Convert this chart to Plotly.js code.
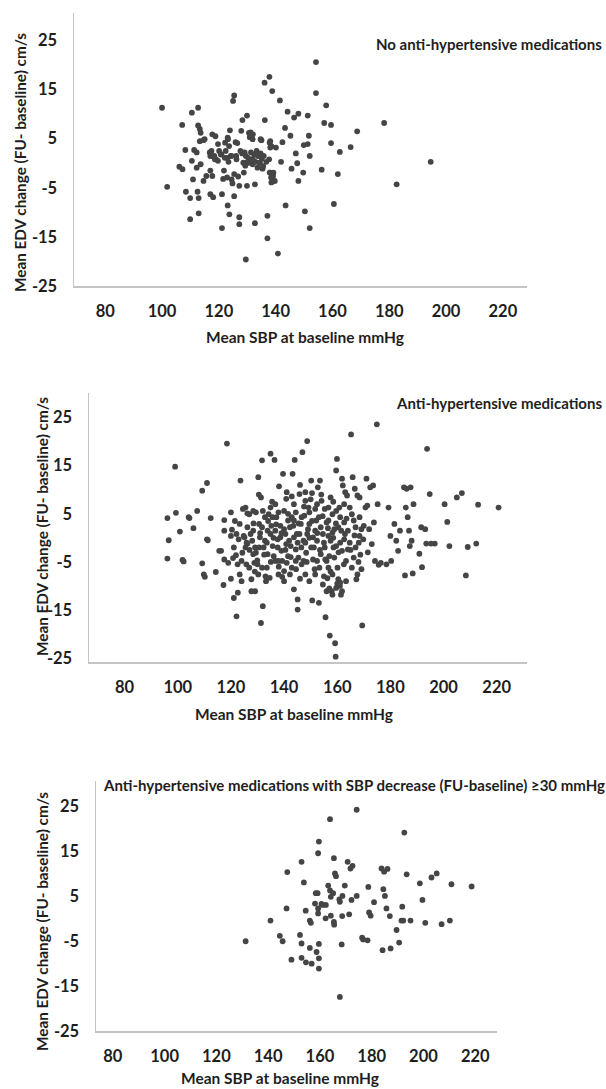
<!DOCTYPE html>
<html>
<head>
<meta charset="utf-8">
<script src="https://cdn.plot.ly/plotly-3.0.1.min.js"></script>
<style>html,body{margin:0;padding:0;background:#fff;}#chart{width:606px;height:1089px;}</style>
</head>
<body>
<div id="chart"></div>
<script>
// ---------- DATA ----------
const xTickVals = [80, 100, 120, 140, 160, 180, 200, 220];
const yTickVals = [-25, -15, -5, 5, 15, 25];

const panelTitles = [
  "No anti-hypertensive medications",
  "Anti-hypertensive medications",
  "Anti-hypertensive medications with SBP decrease (FU-baseline) \u226530 mmHg"
];
const xAxisTitle = "Mean SBP at baseline mmHg";
const yAxisTitle = "Mean EDV change (FU- baseline) cm/s";

// Panel 1: no anti-hypertensive medications
const p1_sbp = [100.0,101.8,106.1,107.2,107.1,108.2,108.4,109.9,109.9,110.5,110.5,110.9,111.3,112.2,112.7,112.7,112.2,112.5,112.9,112.9,
113.3,113.6,113.3,113.6,114.6,114.6,115.0,115.6,117.0,117.0,117.0,117.4,117.7,117.7,118.0,118.4,118.8,119.0,119.7,119.7,
120.1,120.7,121.1,121.1,121.5,121.8,122.2,122.4,122.9,122.9,123.1,123.1,123.4,123.7,123.9,124.2,124.5,124.8,125.0,125.4,
125.4,125.4,125.9,126.1,126.5,126.8,127.2,127.2,127.2,127.6,127.9,128.2,128.3,128.6,128.8,129.3,129.5,129.5,129.9,129.9,
130.3,130.6,130.6,131.0,131.3,131.6,131.9,131.9,132.4,132.7,132.7,132.9,133.3,133.6,134.0,134.3,134.7,134.7,135.1,135.4,
135.8,136.1,136.2,136.7,137.1,137.1,137.7,137.8,138.1,138.1,138.1,138.4,138.8,139.2,139.2,139.7,140.1,140.8,141.5,141.9,
142.4,143.3,143.5,144.2,145.2,145.6,146.5,147.1,147.6,148.0,148.0,149.7,149.9,150.3,151.3,151.3,151.7,152.0,152.0,154.2,
154.2,156.2,157.1,157.8,159.5,159.5,160.5,161.9,162.6,166.4,168.7,178.2,182.6,194.6,
123.2,123.6,131.2,132.0,130.9,135.0,137.9,138.5,139.1,138.5,137.9,116.8,117.4,118.6,120.9,122.1,124.4,126.2,129.1,129.7,
132.0,133.8,134.4,135.6];
const p1_edv = [11.3,-4.8,-0.7,-1.2,7.8,2.7,-5.8,-7.1,-11.4,10.3,0.5,-3.3,2.7,2.2,11.3,7.7,-0.9,-5.8,-7.1,-10.2,
7.0,6.2,4.5,-0.2,4.7,-3.6,4.9,-2.6,1.5,-1.5,-6.3,2.5,5.9,-2.6,-6.9,1.5,5.5,0.8,3.9,0.5,
2.5,1.8,-6.3,-13.2,-3.2,-1.5,4.2,2.5,1.1,-2.9,5.2,-8.6,0.3,-10.4,6.7,1.5,-3.3,-4.1,12.7,13.8,
-2.2,-6.7,4.3,1.5,4.1,-2.7,-4.6,-11.0,-12.4,2.5,6.6,2.0,8.8,0.1,-1.9,-0.5,1.5,-19.6,9.7,-4.6,
1.1,6.2,0.1,5.6,2.2,0.8,4.9,-0.2,1.8,-4.3,-12.2,0.3,2.5,-0.9,1.5,0.1,4.9,2.0,0.9,-1.1,
1.5,16.4,8.8,0.3,-10.7,-15.3,0.8,17.6,4.5,3.2,-1.9,-2.9,14.7,-3.6,-1.9,-3.6,3.2,-18.4,12.8,0.3,
4.3,7.2,-8.6,10.5,5.6,-1.1,9.3,2.0,0.0,10.1,-3.6,-1.9,3.7,-9.8,9.7,3.9,5.6,1.5,-13.2,20.6,
14.3,-1.3,8.2,11.8,7.8,4.1,-8.3,-2.2,2.3,3.3,6.5,8.2,-4.3,0.3,
4.9,3.5,6.3,5.9,5.3,4.7,4.2,3.5,-2.6,-3.9,-1.9,2.2,1.5,0.8,1.8,1.1,1.5,0.8,2.2,0.1,
0.8,1.5,0.1,-0.6];

// Panel 2: anti-hypertensive medications
const p2_sbp = [96.1,96.6,96.1,99.3,99.0,100.8,101.8,102.2,104.1,104.4,105.9,107.3,109.2,109.2,109.8,110.2,111.0,111.0,111.3,112.4,114.3,
115.6,116.3,117.2,117.5,117.5,117.5,118.5,119.0,120.0,120.0,120.0,120.4,120.8,121.1,121.9,122.1,122.6,122.9,123.3,123.3,123.6,124.0,124.3,124.8,125.1,125.5,125.8,125.9,126.2,
126.2,126.9,127.7,127.7,128.0,128.4,128.8,129.1,129.1,129.4,129.9,130.3,130.6,130.9,131.3,131.3,131.7,131.7,132.0,132.3,132.8,133.2,133.5,133.8,134.2,134.6,134.9,135.2,135.7,136.1,136.4,136.7,136.7,137.1,137.6,137.9,
138.1,138.6,139.0,139.3,139.6,140.0,140.5,140.8,141.0,141.5,141.9,142.2,142.5,142.9,143.2,143.7,144.0,144.4,144.8,145.1,145.1,145.4,145.8,146.3,146.6,146.9,147.3,147.6,148.0,148.3,148.7,149.0,149.2,
149.5,150.2,150.5,150.6,150.9,151.2,151.7,152.1,152.4,152.7,153.1,153.3,153.5,153.8,154.1,154.6,155.0,155.3,155.6,156.0,156.3,156.7,157.0,157.2,157.5,157.9,158.2,158.6,158.9,159.2,159.4,159.6,159.9,160.1,160.4,160.8,161.1,
161.4,161.8,162.1,162.6,162.9,163.3,163.7,164.0,164.7,165.2,165.5,165.8,166.2,166.6,166.9,167.2,167.6,168.1,168.4,168.7,169.1,169.4,169.8,170.6,171.0,171.3,172.0,172.4,
173.0,173.5,173.8,174.2,174.9,175.2,175.6,176.4,178.5,179.3,180.0,180.3,181.5,182.2,182.9,183.6,
185.1,185.5,185.8,186.1,186.5,187.0,187.3,187.6,188.0,188.4,188.7,190.9,191.6,191.9,193.1,193.5,193.8,194.8,195.3,196.7,200.4,201.4,202.2,205.0,206.9,208.4,209.1,212.3,213.0,220.7,
126.2,127.4,128.4,129.4,130.6,131.7,132.8,133.8,134.9,135.7,136.7,137.6,138.6,139.3,140.0,140.8,141.5,142.2,142.9,143.7,144.4,145.1,145.8,146.6,147.3,148.0,148.7,149.5,150.2,150.9,
151.7,152.4,153.1,153.8,154.6,155.3,156.0,156.7,157.5,158.2,158.9,159.6,160.4,161.1,161.8,162.6,163.3,164.0,164.7,165.5,166.2,166.9,167.6,168.4,169.1,
121.1,122.1,124.0,126.9,130.3,133.5,137.9,140.0,142.9,144.4,148.0,151.7,156.7,158.2,159.6,161.1,161.8,158.2,156.0,128.4,134.9,143.7,148.0,152.4,156.7,159.6,162.6,168.4,143.7,149.5,137.9,132.0,
127.0,128.5,130.0,131.0,132.5,134.0,135.0,136.0,137.0,138.0,139.0,140.5,141.5,142.5,143.5,144.5,145.5,146.5,147.5,148.5,149.5,150.5,151.5,152.5,153.5,154.5,155.5,156.5,157.5,158.5,
159.5,160.5,161.5,162.5,163.5,165.0,166.5,168.0,170.0,171.5,160.0,157.0,161.0,155.0,146.0,140.0,133.0,129.0,125.5,122.5,121.5,124.5,130.5,135.5,141.0,146.0,150.0,154.0,158.5,163.0];
const p2_edv = [4.1,-0.5,-4.3,5.2,14.8,1.3,-4.6,-4.9,4.3,4.1,2.0,5.6,9.8,-5.3,-7.6,-8.1,11.4,-0.3,-0.5,4.1,-7.1,
-2.7,-2.7,-9.8,3.7,1.5,-4.5,19.6,-5.2,5.3,0.4,-8.5,1.7,-4.2,-12.5,-3.6,-16.3,-11.4,-0.3,2.9,-7.6,11.9,-9.0,-3.1,0.4,0.1,6.3,-5.5,-1.0,-1.2,
5.1,4.9,-11.1,-8.6,-0.6,-3.4,-5.2,-11.1,-2.0,5.3,-4.7,12.6,2.9,0.1,8.4,-17.7,16.1,-6.2,-14.2,-2.0,4.3,-9.0,-1.0,1.5,4.9,-8.3,17.5,2.5,-1.7,-3.8,16.2,7.0,-4.8,4.3,-0.3,-7.6,
10.7,2.5,-2.7,-8.1,13.3,5.6,0.8,8.1,-5.2,3.6,-0.6,-7.6,-1.7,8.6,13.3,-10.7,16.2,5.3,0.8,-12.8,-14.9,-4.1,9.1,2.9,-5.5,17.8,-0.6,4.6,9.5,-3.1,20.1,1.8,6.3,
-9.0,11.9,9.3,-13.0,0.1,-2.0,6.0,3.6,-4.8,10.5,-13.5,-6.2,11.9,2.2,7.7,-9.7,-1.0,6.0,-16.5,3.2,-8.4,0.4,-3.8,-20.3,8.4,-11.1,4.9,-2.0,1.8,-21.9,-24.7,14.0,16.4,-6.2,-8.6,6.3,-1.0,
-11.8,12.3,10.9,3.2,0.8,-9.0,8.8,-2.4,6.3,21.5,4.9,12.6,-4.1,10.2,2.2,-8.6,8.8,-1.0,4.3,-3.5,-6.5,-18.2,-0.3,6.3,12.3,6.7,1.8,10.5,
-1.3,10.9,3.2,-4.8,23.6,7.0,-5.6,-5.2,-5.5,6.3,0.4,-4.8,2.9,-0.6,-2.7,1.5,
10.5,-7.8,6.3,10.2,4.3,1.5,-1.7,10.5,-0.6,-7.4,7.0,-3.3,2.2,-6.1,1.8,-1.2,18.5,9.1,-1.2,-1.2,7.0,3.3,-1.7,8.4,9.3,-7.8,-1.9,-1.2,6.9,6.3,
2.2,0.8,1.5,-3.1,-2.0,2.2,-0.6,-3.4,0.8,4.3,1.5,-2.0,0.1,-4.8,1.8,-1.3,-3.8,2.2,4.3,0.1,-2.4,-1.0,0.8,4.3,-4.8,-1.0,0.8,2.9,-2.0,-4.5,
1.5,-0.6,4.3,-3.4,0.8,-2.0,-4.8,3.6,-0.6,1.1,-4.1,-1.7,2.2,4.3,-2.7,-0.3,-4.8,1.5,-1.0,-6.2,3.6,-2.0,-7.6,0.4,1.8,
-2.0,0.8,-4.8,-6.2,-7.6,-6.2,-4.8,-6.9,-6.2,-4.8,-7.6,-7.6,-6.2,-7.6,-10.4,-9.3,-11.1,-11.8,-11.1,5.6,6.3,7.0,7.7,7.0,6.3,5.6,7.0,8.4,3.6,5.3,5.3,5.6,
-2.5,3.0,-5.5,1.0,-3.5,3.5,-5.0,0.0,2.8,-6.0,1.0,-2.5,5.0,-4.0,2.5,-6.5,3.0,-2.0,6.5,-5.0,0.0,3.5,-6.5,1.0,-2.5,4.5,-4.5,2.0,-7.0,0.0,
3.0,-3.0,1.5,-5.5,4.0,-2.5,0.5,-5.0,2.5,-3.0,-9.5,-10.5,-10.0,-8.0,-8.5,-9.0,-8.0,-7.0,-2.0,-5.5,3.5,6.0,9.0,7.5,9.5,11.0,8.0,9.0,7.5,9.5];

// Panel 3: anti-hypertensive medications with SBP decrease >= 30 mmHg
const p3_sbp = [131.3,140.9,144.5,145.6,147.4,147.1,149.0,152.3,152.9,152.9,152.9,153.8,154.6,154.5,156.1,156.5,156.1,156.8,158.1,158.4,
159.1,158.7,159.3,159.3,159.3,159.6,159.6,159.6,159.6,160.6,161.0,162.3,162.2,163.2,163.9,163.9,164.2,164.2,165.1,165.4,
165.4,165.5,165.8,166.2,167.5,167.7,168.4,168.6,167.7,168.7,169.6,170.7,171.3,171.8,172.2,172.6,174.2,174.2,176.3,176.7,
178.4,178.7,179.0,179.6,180.9,183.8,184.2,184.5,184.8,185.1,185.7,186.1,187.0,187.3,189.6,190.6,191.8,191.5,192.2,192.6,
193.5,195.0,198.6,199.6,200.7,203.1,205.1,207.0,210.2,210.8,218.6];
const p3_edv = [-5.0,-0.4,-3.8,-5.0,10.4,2.3,-9.1,-3.6,12.7,-5.5,-8.7,8.1,-9.7,1.8,-0.4,-0.9,-6.5,-10.0,3.4,5.7,
5.7,-7.4,1.2,2.3,14.6,17.2,-5.6,-8.8,-11.1,3.3,3.1,3.1,0.1,7.4,22.2,6.3,4.9,0.7,5.7,13.5,
-0.7,-1.3,10.1,9.5,4.3,3.8,-5.7,0.6,-17.4,5.1,7.4,12.7,1.0,11.2,4.2,11.8,24.3,5.1,-4.2,-4.6,
-4.8,7.1,1.4,0.7,3.7,11.2,-7.0,6.6,10.5,5.1,2.3,11.1,0.6,-6.6,-2.5,-5.3,2.7,-0.4,-0.4,19.2,
9.9,-0.4,7.9,4.2,-0.9,9.2,10.1,-1.2,-0.4,7.7,7.2];

// ---------- LAYOUT ----------
const W = 606, H = 1089;
const px = v => v / W;
const py = v => 1 - v / H;

const FONT = "Lato, 'Liberation Sans', Arial, sans-serif";
const TXT = "#1e1e1e";
const AXC = "#c4c4c4";
const DOT = "#454545";

const panels = [
  {sbp: p1_sbp, edv: p1_edv, xr: [69, 228.5], yr: [-25, 30.6], xd: [74, 527], yd: [13, 286],
   title: {x: 374, y: 44}, ytitle: {x: 20, y: 163}, xtitle: {x: 305, y: 337}},
  {sbp: p2_sbp, edv: p2_edv, xr: [66.6, 231.4], yr: [-25.8, 30.1], xd: [89, 527], yd: [393, 662],
   title: {x: 394, y: 403}, ytitle: {x: 42, y: 527}, xtitle: {x: 294, y: 714}},
  {sbp: p3_sbp, edv: p3_edv, xr: [73.5, 228.4], yr: [-25, 30.7], xd: [96, 497], yd: [781, 1031],
   title: {x: 101, y: 785}, ytitle: {x: 42, y: 922}, xtitle: {x: 280, y: 1078}}
];

const data = [];
const layout = {
  width: W, height: H,
  margin: {l: 0, r: 0, t: 0, b: 0},
  paper_bgcolor: "#ffffff", plot_bgcolor: "#ffffff",
  showlegend: false,
  font: {family: FONT, color: TXT},
  annotations: []
};

panels.forEach((p, i) => {
  const n = i === 0 ? "" : String(i + 1);
  data.push({
    type: "scatter", mode: "markers",
    x: p.sbp, y: p.edv,
    xaxis: "x" + n, yaxis: "y" + n,
    marker: {size: 5.8, color: DOT, line: {width: 0}},
    hoverinfo: "x+y"
  });
  layout["xaxis" + n] = {
    domain: [px(p.xd[0]), px(p.xd[1])],
    anchor: "y" + n,
    range: p.xr,
    tickmode: "array", tickvals: xTickVals, ticktext: xTickVals.map(String),
    showgrid: false, zeroline: false,
    showline: true, linecolor: AXC, linewidth: 1.5,
    ticks: "", ticklabelstandoff: 10,
    tickfont: {family: FONT, size: 16.5, color: TXT, weight: "bold"}
  };
  layout["yaxis" + n] = {
    domain: [py(p.yd[1]), py(p.yd[0])],
    anchor: "x" + n,
    range: p.yr,
    tickmode: "array", tickvals: yTickVals, ticktext: yTickVals.map(String),
    showgrid: false, zeroline: false,
    showline: true, linecolor: AXC, linewidth: 1.5,
    ticks: "", ticklabelstandoff: 12,
    tickfont: {family: FONT, size: 16.5, color: TXT, weight: "bold"}
  };
  layout.annotations.push({
    xref: "paper", yref: "paper", x: px(p.title.x), y: py(p.title.y),
    xanchor: "left", yanchor: "middle", showarrow: false,
    text: panelTitles[i],
    font: {family: FONT, size: 15, color: TXT, weight: "bold"}
  });
  layout.annotations.push({
    xref: "paper", yref: "paper", x: px(p.ytitle.x), y: py(p.ytitle.y),
    xanchor: "center", yanchor: "middle", showarrow: false, textangle: -90,
    text: yAxisTitle,
    font: {family: FONT, size: 15.3, color: TXT, weight: "bold"}
  });
  layout.annotations.push({
    xref: "paper", yref: "paper", x: px(p.xtitle.x), y: py(p.xtitle.y),
    xanchor: "center", yanchor: "middle", showarrow: false,
    text: xAxisTitle,
    font: {family: FONT, size: 15.5, color: TXT, weight: "bold"}
  });
});

Plotly.newPlot("chart", data, layout, {staticPlot: true, displayModeBar: false});
</script>
</body>
</html>
